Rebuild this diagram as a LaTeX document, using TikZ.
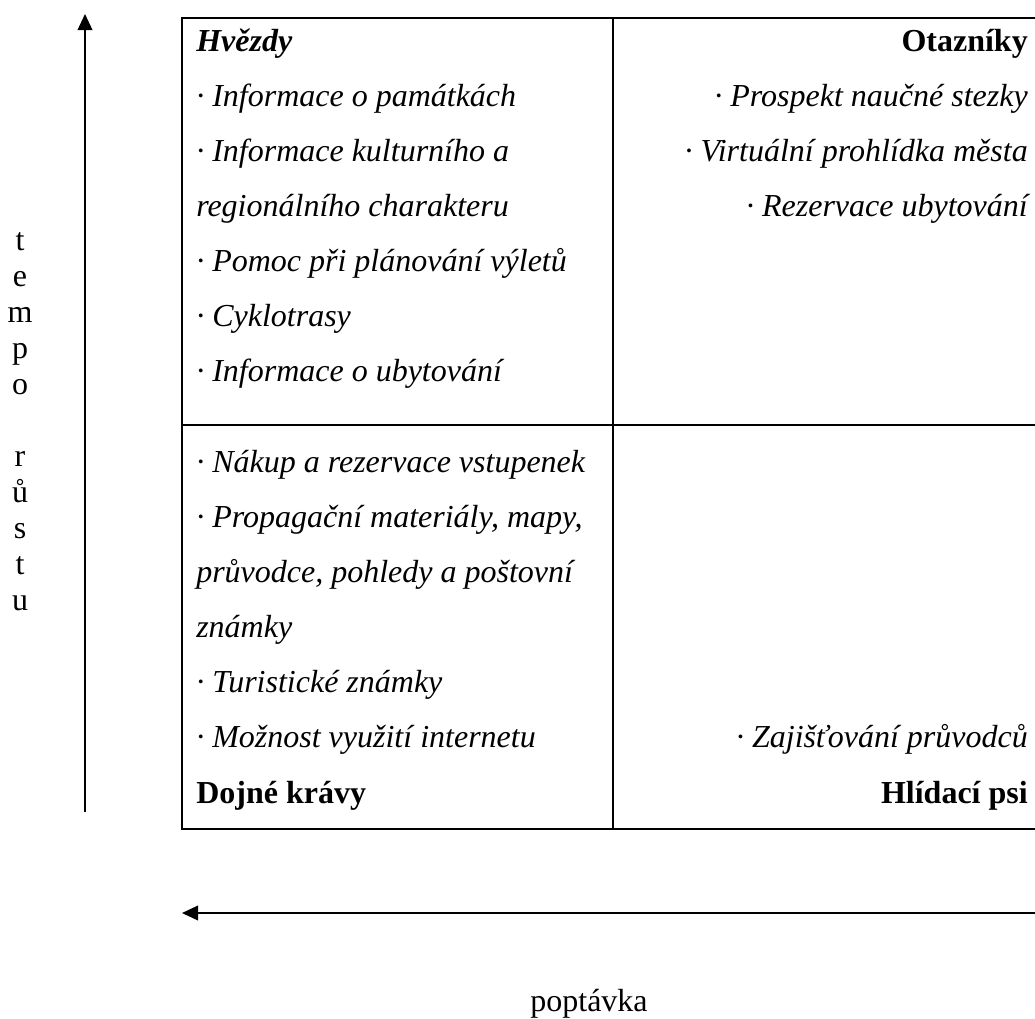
\documentclass[tikz,border=0pt]{standalone}
\usepackage{fontspec}
\setmainfont{Liberation Serif}
\usetikzlibrary{arrows.meta}

\begin{document}
\begin{tikzpicture}[
    x=0.75pt, y=-0.75pt,
    pointy/.tip={Triangle[length=12pt,width=11pt]},
    cell/.style={line width=1.5pt},
    axis/.style={line width=1.1pt},
    txt/.style={inner sep=0pt, font=\fontsize{24}{27}\selectfont},
    itemL/.style={txt, anchor=base west, font=\fontsize{24}{27}\selectfont\itshape},
    itemR/.style={txt, anchor=base east, font=\fontsize{24}{27}\selectfont\itshape},
    headL/.style={txt, anchor=base west, font=\fontsize{24}{27}\selectfont\bfseries},
    headR/.style={txt, anchor=base east, font=\fontsize{24}{27}\selectfont\bfseries},
]
    \useasboundingbox (0,0) rectangle (1035,1018);

    % the four fields
    \draw[cell] (1040,18) -- (182,18) -- (182,829) -- (1040,829);
    \draw[cell] (182,425) -- (1040,425);
    \draw[cell] (613,18) -- (613,829);

    \node[headL, font=\fontsize{24}{27}\selectfont\bfseries\itshape] (hvezdy) at (196,51) {Hvězdy};
    \node[itemL] (pamatky) at (196,106) {· Informace o památkách};
    \node[itemL] (kultura) at (196,161) {· Informace kulturního a};
    \node[itemL] (region) at (196,216) {regionálního charakteru};
    \node[itemL] (vylety) at (196,271) {· Pomoc při plánování výletů};
    \node[itemL] (cyklo) at (196,326) {· Cyklotrasy};
    \node[itemL] (ubyt) at (196,381) {· Informace o ubytování};

    \node[headR] (otazniky) at (1028,51) {Otazníky};
    \node[itemR] (prospekt) at (1028,106) {· Prospekt naučné stezky};
    \node[itemR] (virtual) at (1028,161) {· Virtuální prohlídka města};
    \node[itemR] (rezervace) at (1028,216) {· Rezervace ubytování};

    \node[itemL] (nakup) at (196,472) {· Nákup a rezervace vstupenek};
    \node[itemL] (propag) at (196,527) {· Propagační materiály, mapy,};
    \node[itemL] (pruvodce) at (196,582) {průvodce, pohledy a poštovní};
    \node[itemL] (znamky) at (196,637) {známky};
    \node[itemL] (turist) at (196,692) {· Turistické známky};
    \node[itemL] (internet) at (196,747) {· Možnost využití internetu};
    \node[headL] (kravy) at (196,803) {Dojné krávy};

    \node[itemR] (zajist) at (1028,747) {· Zajišťování průvodců};
    \node[headR] (psi) at (1028,803) {Hlídací psi};

    % axes
    \coordinate (ylow) at (85,812);
    \coordinate (yhigh) at (85,14);
    \draw[axis,-pointy] (ylow) -- (yhigh);
    \node[txt, anchor=north, align=center, font=\fontsize{24}{27}\selectfont] (tempo) at (20,232)
        {t\\e\\m\\p\\o\\[27pt]r\\ů\\s\\t\\u};

    \coordinate (xright) at (1035,913);
    \coordinate (xleft) at (182,913);
    \draw[axis,-pointy] (xright) -- (xleft);
    \node[txt, anchor=base] (poptavka) at (589,1011) {poptávka};
\end{tikzpicture}
\end{document}
